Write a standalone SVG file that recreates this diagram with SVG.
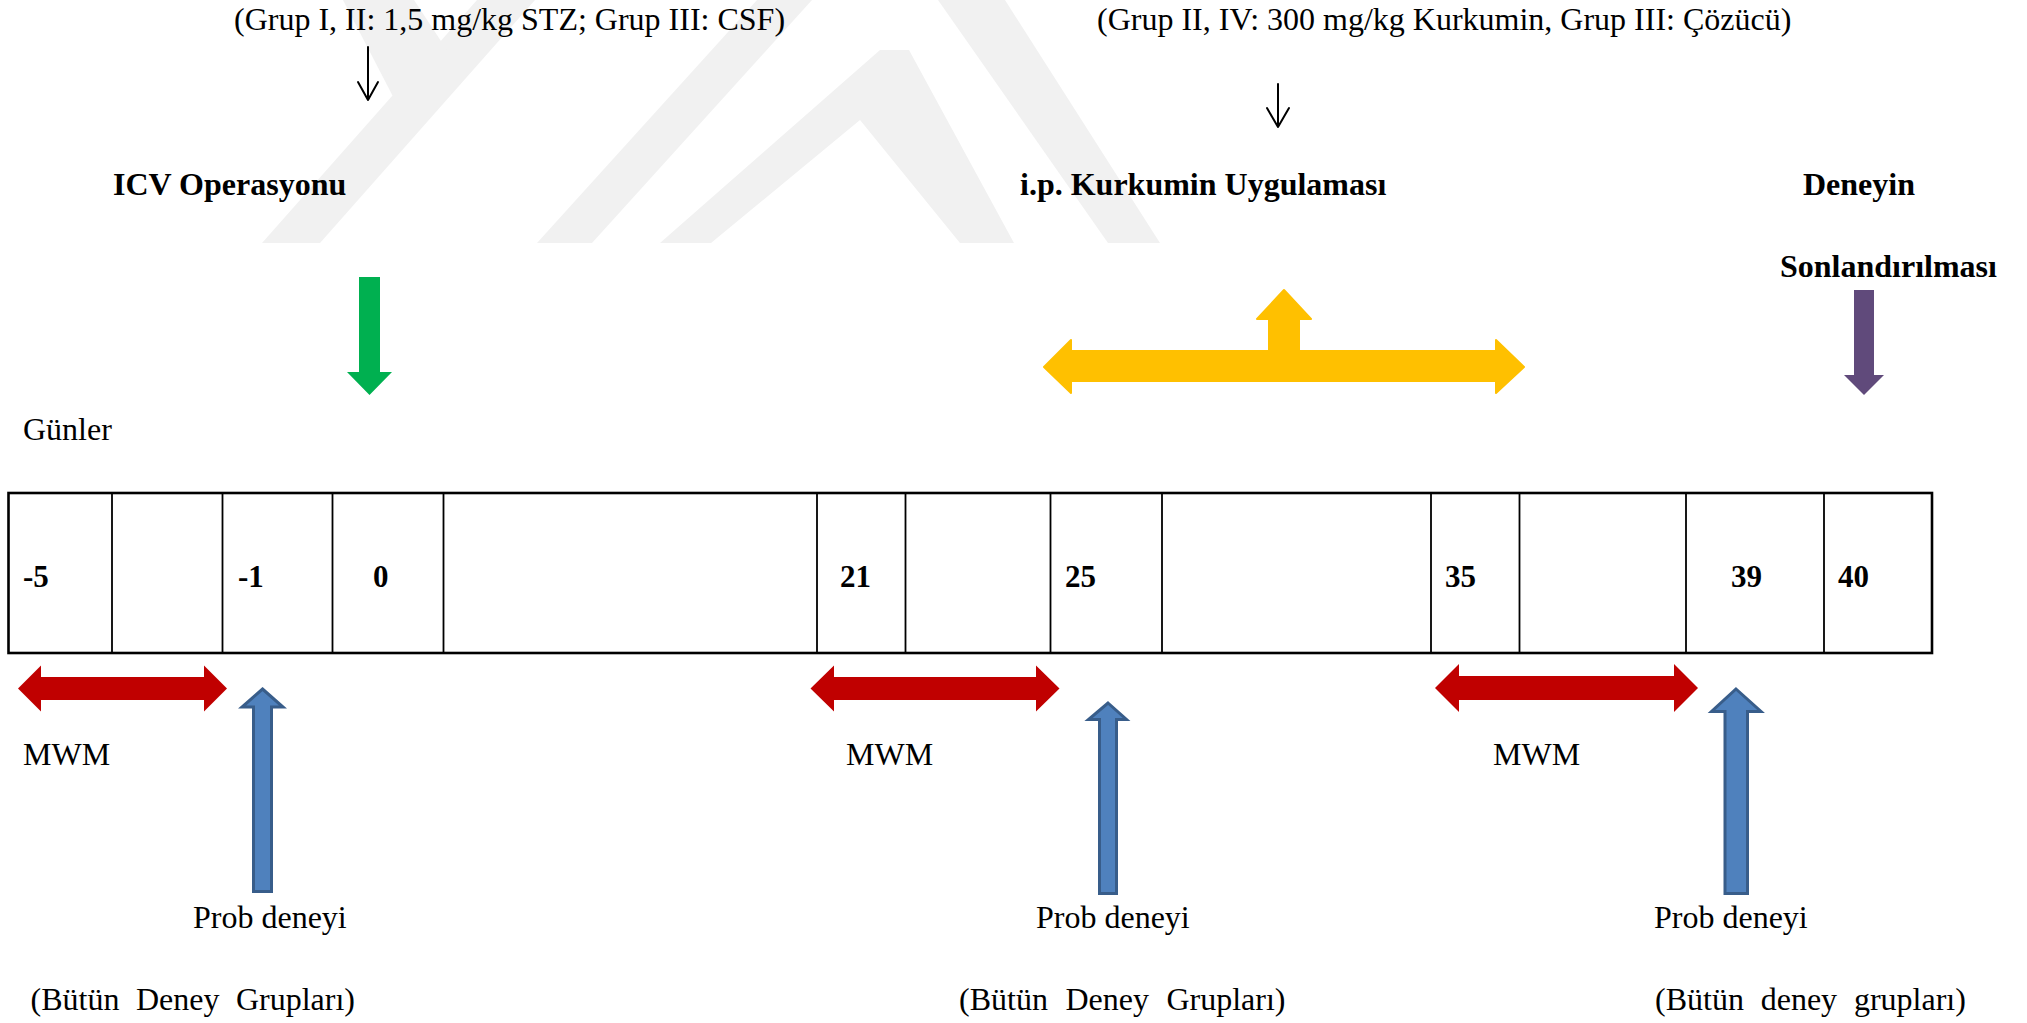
<svg xmlns="http://www.w3.org/2000/svg" width="2027" height="1023" viewBox="0 0 2027 1023">
  <style>
    text { font-family: "Liberation Serif", "Times New Roman", serif; font-size: 32px; fill: #000; }
    .b { font-weight: bold; }
    .num { font-weight: bold; font-size: 31px; }
    .cell { stroke: #000; stroke-width: 1.8; fill: none; }
    .frame { stroke: #000; stroke-width: 2.6; fill: none; }
    .thin { stroke: #000; stroke-width: 2; fill: none; stroke-linecap: round; stroke-linejoin: round; }
    .red { fill: #C00000; }
    .blue { fill: #4F81BD; stroke: #385D8A; stroke-width: 3; }
    .wm { fill: #F1F1F1; }
  </style>

  <rect width="2027" height="1023" fill="#fff"/>

  <!-- background logo -->
  <g id="watermark">
    <polygon class="wm" points="262,243 320,243 535,0 477,0"/>
    <polygon class="wm" points="343,0 414,0 460,70 400,110"/>
    <polygon class="wm" points="537,243 592,243 812,0 757,0"/>
    <polygon class="wm" points="660,243 711,243 860,120 960,243 1014,243 909,50 880,50"/>
    <polygon class="wm" points="938,0 1005,0 1160,243 1108,243"/>
  </g>

  <!-- top annotations -->
  <g id="note-icv">
    <text x="234" y="30">(Grup I, II: 1,5 mg/kg STZ; Grup III: CSF)</text>
  </g>
  <g id="note-kurkumin">
    <text x="1097" y="30">(Grup II, IV: 300 mg/kg Kurkumin, Grup III: Çözücü)</text>
  </g>
  <g id="label-icv">
    <text class="b" x="113" y="195">ICV Operasyonu</text>
  </g>
  <g id="label-kurkumin">
    <text class="b" x="1020" y="195">i.p. Kurkumin Uygulaması</text>
  </g>
  <g id="label-end">
    <text class="b" x="1803" y="195">Deneyin</text>
    <text class="b" x="1780" y="277">Sonlandırılması</text>
  </g>
  <g id="label-days">
    <text x="23" y="440">Günler</text>
  </g>

  <!-- day timeline -->
  <g id="timeline">
    <rect class="frame" x="8.5" y="493" width="1923.5" height="160"/>
    <path class="cell" d="M112,493V653M222.5,493V653M332.5,493V653M443.5,493V653M817,493V653M905.5,493V653M1050.5,493V653M1162,493V653M1431,493V653M1519.5,493V653M1686,493V653M1824,493V653"/>
    <text class="num" x="23" y="587">-5</text>
    <text class="num" x="238" y="587">-1</text>
    <text class="num" x="373" y="587">0</text>
    <text class="num" x="840" y="587">21</text>
    <text class="num" x="1065" y="587">25</text>
    <text class="num" x="1445" y="587">35</text>
    <text class="num" x="1731" y="587">39</text>
    <text class="num" x="1838" y="587">40</text>
  </g>

  <!-- arrows -->
  <g id="connectors">
    <path class="thin" d="M368,47V100M358,82L368,100L378,82"/>
    <path class="thin" d="M1278,84V127M1267,108L1278,127L1289,108"/>
    <polygon fill="#00B050" points="359,277 380,277 380,372 392,372 369.5,395 347,372 359,372"/>
    <polygon fill="#604A7B" points="1854,290 1874,290 1874,375 1884,375 1864,395 1844,375 1854,375"/>
    <polygon fill="#FFC000" stroke="#FFC000" stroke-width="2" stroke-linejoin="round" points="1044,367 1071,340 1071,351 1269,351 1269,319 1257,319 1284,290 1311,319 1299,319 1299,351 1496,351 1496,340 1524,367 1496,393 1496,381 1071,381 1071,393"/>

    <polygon class="red" points="18,688.5 41,665.5 41,677 204,677 204,665.5 227,688.5 204,711.5 204,700 41,700 41,711.5"/>
    <polygon class="red" points="810.5,688.5 834,665.5 834,677 1036,677 1036,665.5 1059.5,688.5 1036,711.5 1036,700 834,700 834,711.5"/>
    <polygon class="red" points="1435,688 1459,664 1459,676 1674,676 1674,664 1698,688 1674,712 1674,700 1459,700 1459,712"/>

    <polygon class="blue" points="262.5,689 283,707 271.5,707 271.5,891.5 253.5,891.5 253.5,707 242,707"/>
    <polygon class="blue" points="1108,703 1126.5,719.5 1116.5,719.5 1116.5,893.5 1099.5,893.5 1099.5,719.5 1088.5,719.5"/>
    <polygon class="blue" points="1736,689 1761,711.5 1747.5,711.5 1747.5,893.5 1725,893.5 1725,711.5 1711.5,711.5"/>
  </g>

  <!-- lower labels -->
  <g id="label-mwm">
    <text x="23" y="765">MWM</text>
    <text x="846" y="765">MWM</text>
    <text x="1493" y="765">MWM</text>
  </g>
  <g id="label-probe">
    <text x="193" y="928">Prob deneyi</text>
    <text x="1036" y="928">Prob deneyi</text>
    <text x="1654" y="928">Prob deneyi</text>
  </g>
  <g id="label-groups">
    <text x="30.5" y="1010" word-spacing="8.5">(Bütün Deney Grupları)</text>
    <text x="959" y="1010" word-spacing="9.5">(Bütün Deney Grupları)</text>
    <text x="1655" y="1010" word-spacing="8.8">(Bütün deney grupları)</text>
  </g>
</svg>
